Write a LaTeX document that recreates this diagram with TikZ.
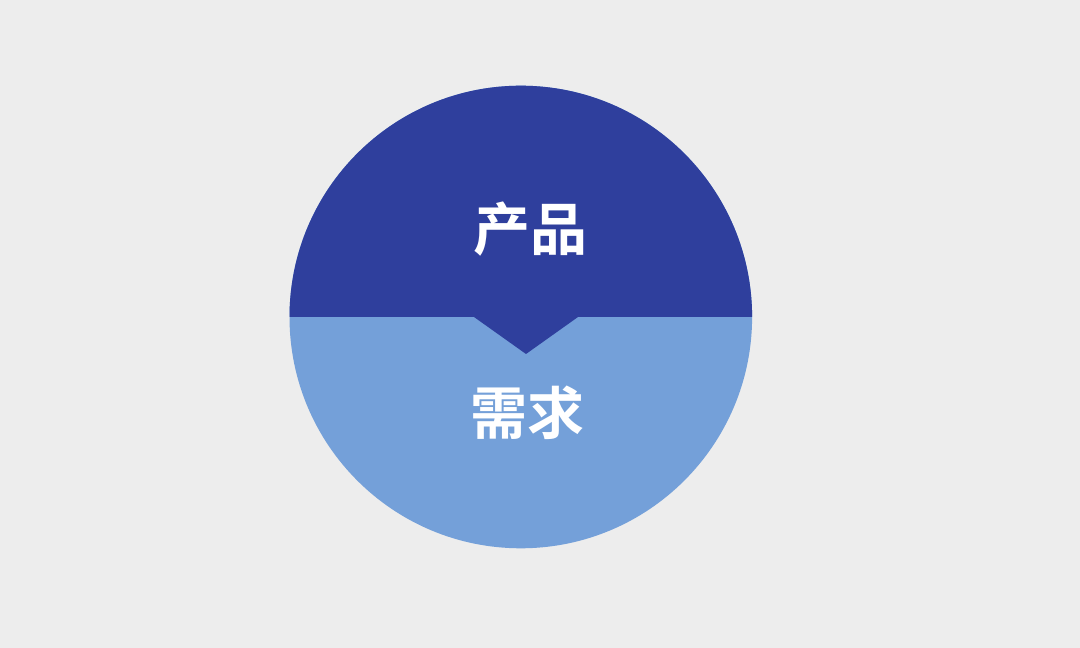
\documentclass[tikz,border=0pt]{standalone}
\usepackage{fontspec}
\usetikzlibrary{calc}
\newfontfamily\cjk{Noto Sans CJK SC}[BoldFont={Noto Sans CJK SC Bold}]
\definecolor{bgc}{HTML}{EDEDED}
\definecolor{darkb}{HTML}{2F3F9D}
\definecolor{lightb}{HTML}{74A0D9}
\tikzset{lbl/.style={text=white,font=\cjk\bfseries\fontsize{57}{57}\selectfont,inner sep=0pt}}
\begin{document}
\begin{tikzpicture}[x=1pt,y=1pt]
\fill[bgc] (0,0) rectangle (1080,648);
\useasboundingbox (0,0) rectangle (1080,648);
\coordinate (c) at (520.8,331);
\fill[lightb] (c) circle[radius=231.3];
\coordinate (nl) at (474,331);
\coordinate (nr) at (578,331);
\coordinate (apex) at (526,294);
\fill[darkb] ($(c)+(180:231.3)$) arc[start angle=180,end angle=0,radius=231.3] -- (nr) -- (apex) -- (nl) -- cycle;
\node[lbl] (prod) at (530,419) {产品};
\node[lbl] (need) at (527.5,235) {需求};
\end{tikzpicture}
\end{document}
